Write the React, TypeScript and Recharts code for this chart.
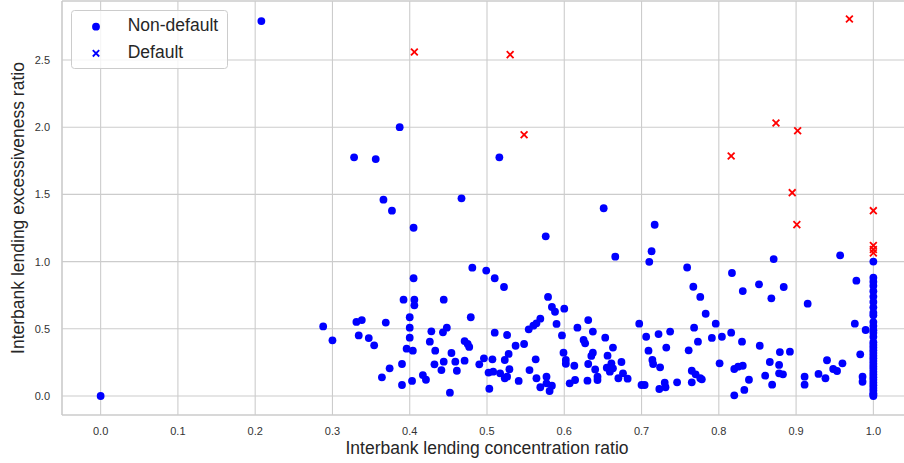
import React from 'react';
import {
  ScatterChart,
  Scatter,
  XAxis,
  YAxis,
  CartesianGrid,
  ReferenceLine,
  Legend,
} from 'recharts';

// Banks that survived: [concentration ratio, excessiveness ratio]
const nonDefaultPoints: [number, number][] = [
  [0.0, 0.0], [0.208, 2.79], [0.387, 2.0], [0.328, 1.776], [0.356, 1.763],
  [0.516, 1.776], [0.366, 1.461], [0.377, 1.379], [0.467, 1.471], [0.405, 1.252],
  [0.576, 1.188], [0.651, 1.397], [0.717, 1.274], [0.666, 1.037], [0.713, 1.077],
  [0.71, 0.998], [0.759, 0.956], [0.871, 1.019], [0.957, 1.047],
  [0.405, 0.876], [0.481, 0.955], [0.499, 0.933], [0.51, 0.876], [0.522, 0.811],
  [0.392, 0.717], [0.406, 0.717], [0.406, 0.675], [0.444, 0.717], [0.579, 0.737],
  [0.584, 0.662], [0.588, 0.627], [0.6, 0.65], [0.4, 0.586], [0.479, 0.586],
  [0.288, 0.518], [0.3, 0.414], [0.331, 0.551], [0.338, 0.565], [0.369, 0.546],
  [0.334, 0.451], [0.347, 0.431], [0.354, 0.377], [0.4, 0.508], [0.4, 0.434],
  [0.396, 0.352], [0.404, 0.337], [0.39, 0.238], [0.374, 0.206], [0.364, 0.139],
  [0.39, 0.082], [0.403, 0.112], [0.417, 0.156], [0.421, 0.121], [0.428, 0.481],
  [0.426, 0.404], [0.433, 0.337], [0.443, 0.474], [0.448, 0.508], [0.432, 0.236],
  [0.441, 0.193], [0.444, 0.255], [0.454, 0.32], [0.459, 0.255], [0.461, 0.188],
  [0.471, 0.263], [0.452, 0.025], [0.471, 0.409], [0.475, 0.387], [0.477, 0.365],
  [0.49, 0.236], [0.496, 0.28], [0.507, 0.273], [0.51, 0.471], [0.526, 0.454],
  [0.502, 0.174], [0.508, 0.181], [0.517, 0.169], [0.523, 0.132], [0.526, 0.144],
  [0.529, 0.199], [0.523, 0.268], [0.528, 0.313], [0.503, 0.054], [0.537, 0.374],
  [0.548, 0.387], [0.541, 0.112], [0.554, 0.496], [0.56, 0.523], [0.564, 0.541],
  [0.569, 0.575], [0.555, 0.193], [0.563, 0.273], [0.564, 0.132], [0.569, 0.065],
  [0.577, 0.144], [0.577, 0.094], [0.584, 0.077], [0.581, 0.037], [0.59, 0.536],
  [0.597, 0.451], [0.599, 0.322], [0.602, 0.268], [0.602, 0.24], [0.613, 0.225],
  [0.607, 0.094], [0.614, 0.119], [0.617, 0.508], [0.625, 0.417], [0.627, 0.392],
  [0.631, 0.565], [0.631, 0.238], [0.63, 0.114], [0.637, 0.479], [0.653, 0.434],
  [0.663, 0.36], [0.637, 0.322], [0.635, 0.298], [0.656, 0.3], [0.64, 0.198],
  [0.643, 0.144], [0.643, 0.119], [0.655, 0.211], [0.661, 0.243], [0.659, 0.181],
  [0.674, 0.253], [0.676, 0.169], [0.67, 0.132], [0.682, 0.129], [0.663, 0.206],
  [0.697, 0.538], [0.706, 0.441], [0.722, 0.461], [0.737, 0.479], [0.709, 0.337],
  [0.732, 0.36], [0.7, 0.082], [0.704, 0.082], [0.714, 0.268], [0.715, 0.238],
  [0.724, 0.213], [0.723, 0.052], [0.731, 0.065], [0.73, 0.099], [0.746, 0.102],
  [0.767, 0.813], [0.776, 0.737], [0.817, 0.915], [0.831, 0.781], [0.852, 0.831],
  [0.868, 0.727], [0.884, 0.811], [0.915, 0.687], [0.978, 0.858], [0.783, 0.612],
  [0.796, 0.538], [0.768, 0.508], [0.791, 0.432], [0.804, 0.441], [0.816, 0.471],
  [0.976, 0.538], [0.99, 0.491], [0.773, 0.404], [0.761, 0.34], [0.83, 0.404],
  [0.853, 0.374], [0.879, 0.327], [0.892, 0.33], [0.983, 0.31], [0.765, 0.188],
  [0.77, 0.161], [0.776, 0.132], [0.778, 0.124], [0.765, 0.102], [0.801, 0.243],
  [0.82, 0.201], [0.825, 0.218], [0.831, 0.225], [0.839, 0.121], [0.833, 0.045],
  [0.82, 0.005], [0.86, 0.151], [0.866, 0.253], [0.878, 0.231], [0.878, 0.169],
  [0.883, 0.161], [0.869, 0.084], [0.911, 0.144], [0.911, 0.084], [0.929, 0.164],
  [0.938, 0.132], [0.94, 0.266], [0.948, 0.201], [0.953, 0.186], [0.96, 0.243],
  [0.986, 0.144], [0.986, 0.106],
  [1.0, 1.0], [1.0, 0.88], [1.0, 0.85], [1.0, 0.82], [1.0, 0.78], [1.0, 0.74],
  [1.0, 0.7], [1.0, 0.66], [1.0, 0.62], [1.0, 0.6], [1.0, 0.55], [1.0, 0.52],
  [1.0, 0.49], [1.0, 0.47], [1.0, 0.44], [1.0, 0.4], [1.0, 0.38], [1.0, 0.36],
  [1.0, 0.34], [1.0, 0.32], [1.0, 0.3], [1.0, 0.28], [1.0, 0.26], [1.0, 0.24],
  [1.0, 0.22], [1.0, 0.2], [1.0, 0.18], [1.0, 0.16], [1.0, 0.14], [1.0, 0.12],
  [1.0, 0.1], [1.0, 0.08], [1.0, 0.06], [1.0, 0.04], [1.0, 0.02], [1.0, 0.01],
  [1.0, 0.0],
];

// Banks that defaulted
const defaultPoints: [number, number][] = [
  [0.406, 2.56], [0.53, 2.54], [0.548, 1.944], [0.969, 2.805], [0.874, 2.031],
  [0.902, 1.974], [0.816, 1.786], [0.895, 1.513], [0.901, 1.275], [1.0, 1.379],
  [1.0, 1.12], [1.0, 1.09], [1.0, 1.065],
];

const xTicks = [0, 0.1, 0.2, 0.3, 0.4, 0.5, 0.6, 0.7, 0.8, 0.9, 1.0];
const yTicks = [0, 0.5, 1.0, 1.5, 2.0, 2.5];

const X_DOMAIN: [number, number] = [-0.05, 1.05];
const Y_DOMAIN: [number, number] = [-0.1414, 2.939];

const nonDefaultData = nonDefaultPoints.map(([x, y]) => ({ x, y }));
const defaultData = defaultPoints.map(([x, y]) => ({ x, y }));

const FONT = '"Liberation Sans", Arial, Helvetica, sans-serif';
const GRID = '#cccccc';
const BLUE = '#0000ff';
const RED = '#ff0000';

const Dot = (props: any) => {
  const { cx, cy } = props;
  if (cx == null || cy == null) return null;
  return <circle cx={cx} cy={cy} r={3.9} fill={BLUE} />;
};

const Cross = (props: any) => {
  const { cx, cy } = props;
  if (cx == null || cy == null) return null;
  const h = 3.4;
  return (
    <g stroke={RED} strokeWidth={1.8}>
      <line x1={cx - h} y1={cy - h} x2={cx + h} y2={cy + h} />
      <line x1={cx - h} y1={cy + h} x2={cx + h} y2={cy - h} />
    </g>
  );
};

const LegendBox = () => (
  <svg width={157} height={59} style={{ display: 'block' }}>
    <rect x={0.5} y={0.5} width={156} height={58} rx={3} ry={3}
      fill="#ffffff" fillOpacity={0.8} stroke={GRID} strokeWidth={1} />
    <circle cx={25} cy={16.7} r={3.9} fill={BLUE} />
    <text x={56.7} y={20.6} fontSize={17.5} fill="#262626" fontFamily={FONT}>Non-default</text>
    <g stroke={BLUE} strokeWidth={1.8}>
      <line x1={21.8} y1={40.1} x2={28.2} y2={46.5} />
      <line x1={21.8} y1={46.5} x2={28.2} y2={40.1} />
    </g>
    <text x={56.7} y={48} fontSize={17.5} fill="#262626" fontFamily={FONT}>Default</text>
  </svg>
);

export default function App() {
  return (
    <div style={{ position: 'absolute', left: 0, top: 0, width: 904, height: 463, overflow: 'hidden', background: '#ffffff' }}>
      <ScatterChart
        width={912}
        height={463}
        margin={{ top: 1, right: 0, bottom: 0, left: 0 }}
        style={{ fontFamily: FONT }}
      >
        <CartesianGrid stroke={GRID} strokeWidth={1.1} />
        <XAxis
          type="number"
          dataKey="x"
          domain={X_DOMAIN}
          ticks={xTicks}
          allowDataOverflow
          height={48}
          tickFormatter={(v: number) => v.toFixed(1)}
          tickLine={false}
          tickSize={0}
          tickMargin={12}
          axisLine={{ stroke: GRID, strokeWidth: 1.2 }}
          tick={{ fill: '#333333', fontSize: 11, fontFamily: FONT }}
        />
        <YAxis
          type="number"
          dataKey="y"
          domain={Y_DOMAIN}
          ticks={yTicks}
          allowDataOverflow
          width={62}
          tickFormatter={(v: number) => v.toFixed(1)}
          tickLine={false}
          tickSize={0}
          tickMargin={12}
          axisLine={{ stroke: GRID, strokeWidth: 1.2 }}
          tick={{ fill: '#333333', fontSize: 11, fontFamily: FONT }}
        />
        <ReferenceLine y={Y_DOMAIN[1]} stroke={GRID} strokeWidth={1.2} />
        <Legend
          layout="horizontal"
          verticalAlign="middle"
          align="center"
          content={() => <LegendBox />}
          wrapperStyle={{ position: 'absolute', left: 71, top: 10, width: 157, height: 59 }}
        />
        <Scatter name="Non-default" data={nonDefaultData} shape={Dot} isAnimationActive={false} />
        <Scatter name="Default" data={defaultData} shape={Cross} isAnimationActive={false} />
      </ScatterChart>
      <div
        style={{
          position: 'absolute', left: 187, top: 438, width: 600, height: 20, lineHeight: '20px',
          textAlign: 'center', fontFamily: FONT, fontSize: 17.5, color: '#262626', whiteSpace: 'nowrap',
        }}
      >
        Interbank lending concentration ratio
      </div>
      <div
        style={{
          position: 'absolute', left: 18 - 200, top: 207.5 - 10, width: 400, height: 20, lineHeight: '20px',
          textAlign: 'center', fontFamily: FONT, fontSize: 17.5, color: '#262626', whiteSpace: 'nowrap',
          transform: 'rotate(-90deg)', transformOrigin: '50% 50%',
        }}
      >
        Interbank lending excessiveness ratio
      </div>
    </div>
  );
}
